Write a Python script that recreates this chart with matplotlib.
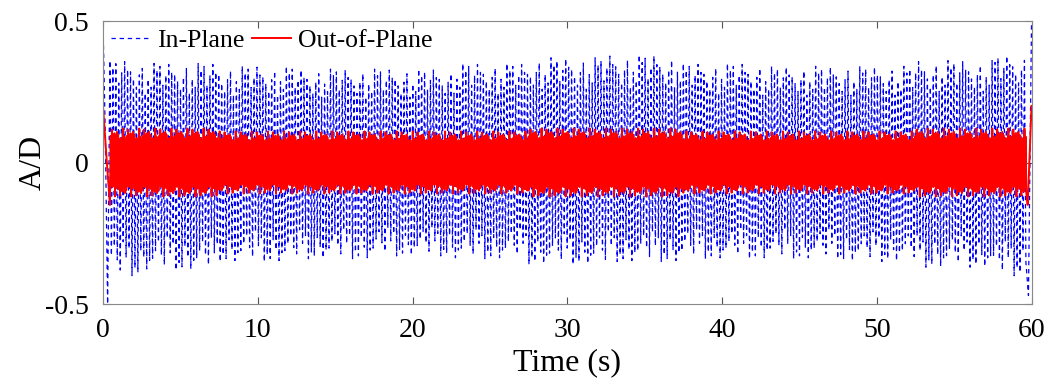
import numpy as np
import matplotlib
matplotlib.use("Agg")
import matplotlib.pyplot as plt

plt.rcParams["font.family"] = ["Liberation Serif", "DejaVu Serif"]

# ---- data ----
# envelope of the peaks, sampled every 5 s (0..60 s)
env_t = [0, 5, 10, 15, 20, 25, 30, 35, 40, 45, 50, 55, 60]
blue_up = [0.36, 0.35, 0.34, 0.33, 0.33, 0.35, 0.37, 0.38, 0.35, 0.34, 0.34, 0.36, 0.38]
blue_lo = [-0.40, -0.38, -0.35, -0.34, -0.33, -0.34, -0.36, -0.35, -0.34, -0.34, -0.35, -0.37, -0.40]
red_up = [0.12, 0.12, 0.11, 0.11, 0.11, 0.11, 0.12, 0.12, 0.11, 0.11, 0.11, 0.12, 0.12]
red_lo = [-0.12, -0.12, -0.11, -0.11, -0.11, -0.11, -0.12, -0.12, -0.11, -0.11, -0.11, -0.12, -0.12]
# relative peak heights, as they repeat along the traces
blue_pattern = [1.0, 0.82, 0.93, 0.74, 0.97, 0.86, 0.78, 0.95, 0.88, 0.7, 0.99, 0.84, 0.91, 0.76, 0.89]
red_pattern = [0.78, 0.66, 0.97, 0.72, 0.8, 0.62, 0.86, 1.0, 0.7, 0.76, 0.9, 0.65, 0.82]
# start / end transients
blue_head_t, blue_head_v = [0.0, 0.15, 0.3], [0.5, 0.1, -0.5]
blue_tail_t, blue_tail_v = [59.8, 60.0], [-0.47, 0.5]
red_head_t, red_head_v = [0.0, 0.25, 0.45], [0.2, 0.0, -0.15]
red_tail_t, red_tail_v = [59.75, 60.0], [-0.15, 0.2]

blue_step, red_step = 0.095, 0.04   # spacing between successive peaks (s)


def trace(step, up, lo, pattern, t0, t1):
    tp = np.arange(t0, t1, step)
    idx = np.clip(np.round(tp / 5).astype(int), 0, len(env_t) - 1)
    scale = np.array([pattern[i % len(pattern)] for i in range(len(tp))])
    v = np.where(np.arange(len(tp)) % 2 == 0, np.array(up)[idx], np.array(lo)[idx]) * scale
    return tp, v


bt, bv = trace(blue_step, blue_up, blue_lo, blue_pattern, 0.45, 59.7)
rt, rv = trace(red_step, red_up, red_lo, red_pattern, 0.5, 59.7)
bt = np.concatenate([blue_head_t, bt, blue_tail_t])
bv = np.concatenate([blue_head_v, bv, blue_tail_v])
rt = np.concatenate([red_head_t, rt, red_tail_t])
rv = np.concatenate([red_head_v, rv, red_tail_v])

fig = plt.figure(figsize=(10.54, 3.89), dpi=100)
ax = fig.add_axes([0.0977, 0.2185, 0.881, 0.7275])

ax.plot(bt, bv, color="#0000ff", lw=0.9, ls=(0, (3.5, 3)), label="In-Plane")
ax.plot(rt, rv, color="#ff0000", lw=1.4, label="Out-of-Plane")

ax.set_xlim(0, 60)
ax.set_ylim(-0.5, 0.5)
ax.set_xticks([0, 10, 20, 30, 40, 50, 60])
ax.set_yticks([-0.5, 0, 0.5])
ax.set_yticklabels(["-0.5", "0", "0.5"])
ax.tick_params(direction="in", top=True, right=True, length=5, width=0.8,
               color="#555555", labelsize=20, pad=10)
for s in ax.spines.values():
    s.set_color("#888888")
    s.set_linewidth(0.8)
ax.set_xlabel("Time (s)", fontsize=23, labelpad=4)
ax.set_ylabel("A/D", fontsize=23, labelpad=-2)

ax.legend(loc="upper left", ncol=2, frameon=False, fontsize=18.5,
          handlelength=1.5, handletextpad=0.3, columnspacing=0.3,
          borderaxespad=0.1, borderpad=0.2)

fig.savefig("out.png", dpi=100)
